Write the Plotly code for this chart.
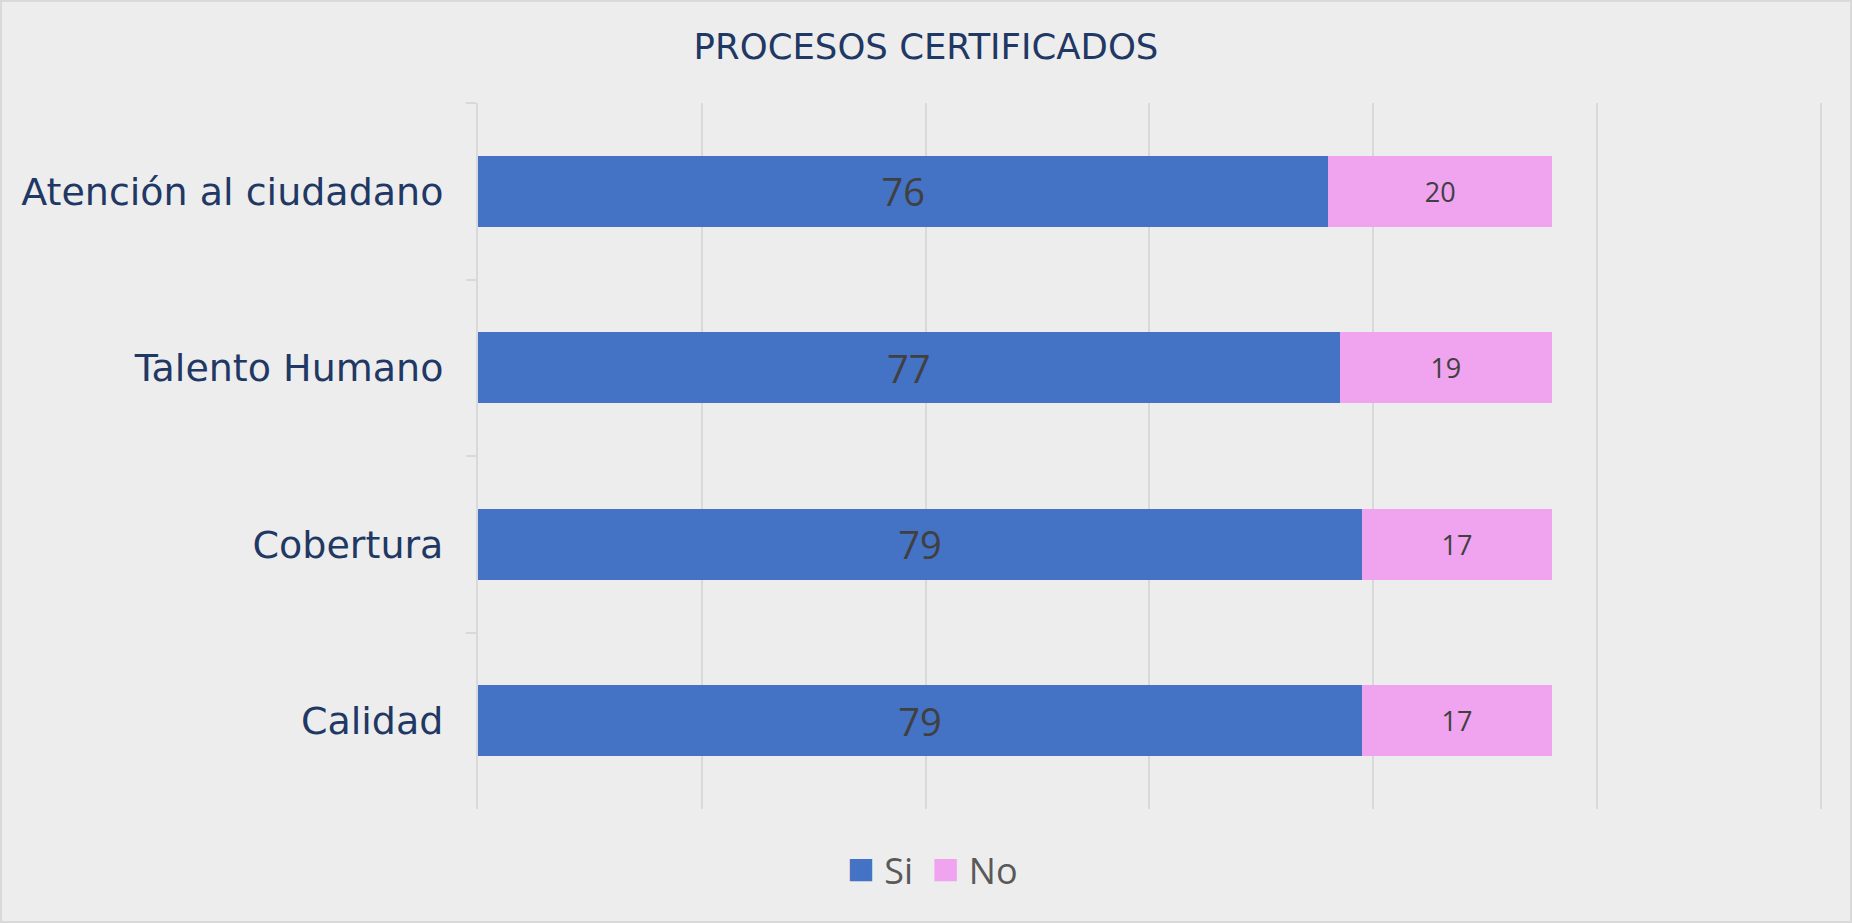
import plotly.graph_objects as go

categories = ["Atención al ciudadano", "Talento Humano", "Cobertura", "Calidad"]
si_values = [76, 77, 79, 79]
no_values = [20, 19, 17, 17]
series_names = ["Si", "No"]

W, H = 1852, 923
XMAX = 120.3
ml, mt, mb = 478, 103, 114
mr = round(W - ml - (1821 - ml) * XMAX / 120)
pw, ph = W - ml - mr, H - mt - mb

BG = "#EDEDED"
GRID = "#D9D9D9"
NAVY = "#1F3864"
BLUE = "#4472C4"
PINK = "#F0A3EE"
colors = [BLUE, PINK]

fig = go.Figure()
fig.add_trace(go.Bar(
    y=categories, x=si_values, name=series_names[0], orientation="h",
    marker=dict(color=BLUE, line=dict(width=0)),
    text=si_values, textposition="inside", insidetextanchor="middle",
    textfont=dict(family="Open Sans", size=38, color="#404040"),
    hoverinfo="x+name", showlegend=False,
))
fig.add_trace(go.Bar(
    y=categories, x=no_values, name=series_names[1], orientation="h",
    marker=dict(color=PINK, line=dict(width=0)),
    text=no_values, textposition="inside", insidetextanchor="middle",
    textfont=dict(family="Open Sans", size=27, color="#404040"),
    hoverinfo="x+name", showlegend=False,
))

# outer chart border (in paper coordinates)
fig.add_shape(type="rect", xref="paper", yref="paper",
              x0=(1 - ml) / pw, x1=(W - 1 - ml) / pw,
              y0=-(mb - 1) / ph, y1=1 + (mt - 1) / ph,
              line=dict(color=GRID, width=2), fillcolor="rgba(0,0,0,0)", layer="below")

# legend drawn as text with square glyphs
legend_text = "&nbsp;&nbsp;".join(
    f"<span style='color:{c};font-size:46px'>■</span> {n}" for n, c in zip(series_names, colors)
)
fig.add_annotation(text=legend_text, xref="paper", yref="paper",
                   x=(932 - ml) / pw, y=-(866 - (H - mb)) / ph,
                   xanchor="center", yanchor="middle", showarrow=False,
                   font=dict(family="Open Sans", size=36, color="#595959"))

fig.update_layout(
    width=W, height=H,
    margin=dict(l=ml, r=mr, t=mt, b=mb, pad=0),
    paper_bgcolor=BG, plot_bgcolor=BG,
    barmode="stack", bargap=0.6,
    title=dict(text="PROCESOS CERTIFICADOS", x=0.5, xref="container", xanchor="center",
               y=1 - 47 / H, yref="container", yanchor="middle",
               font=dict(family="DejaVu Sans", size=35.5, color=NAVY)),
    xaxis=dict(range=[0, XMAX], dtick=20, tick0=0, showticklabels=False, showgrid=True,
               gridcolor=GRID, gridwidth=2, zeroline=False, showline=False, fixedrange=True),
    yaxis=dict(autorange="reversed", showline=True, linecolor=GRID, linewidth=2,
               ticks="outside", tickson="boundaries", ticklen=10, tickcolor=GRID, tickwidth=2,
               tickfont=dict(family="DejaVu Sans", size=38, color=NAVY), ticklabelstandoff=25,
               showgrid=False, fixedrange=True),
    showlegend=False,
)

fig.write_html("out.html", config={"displayModeBar": False},
               post_script="document.body.style.margin='0';document.body.style.overflow='hidden';")
